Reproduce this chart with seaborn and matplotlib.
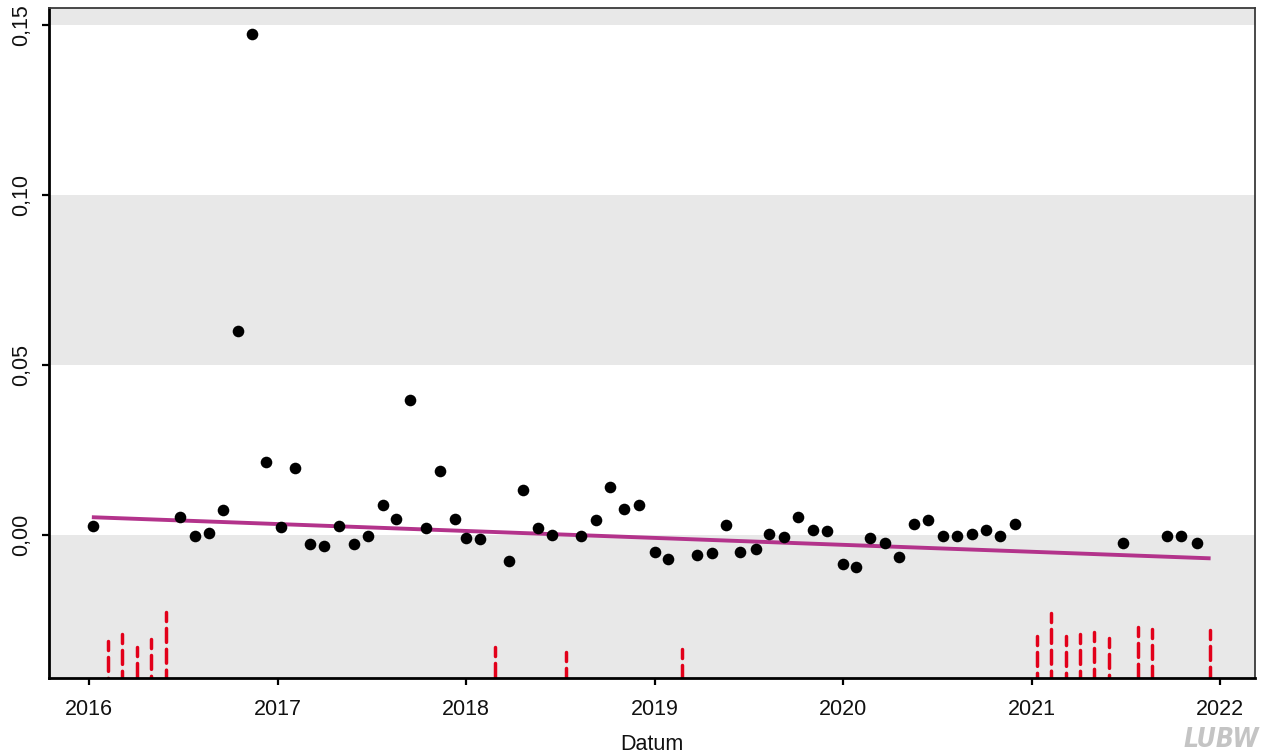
import matplotlib
matplotlib.use("Agg")
import matplotlib.pyplot as plt
import matplotlib.dates as mdates
import pandas as pd
import seaborn as sns

# Measured values (sampling date, value)
sample_dates = [
    "2016-01-10", "2016-06-26", "2016-07-24", "2016-08-21", "2016-09-18",
    "2016-10-16", "2016-11-13", "2016-12-10", "2017-01-07", "2017-02-04",
    "2017-03-04", "2017-04-01", "2017-04-30", "2017-05-28", "2017-06-24",
    "2017-07-23", "2017-08-19", "2017-09-15", "2017-10-15", "2017-11-11",
    "2017-12-10", "2017-12-31", "2018-01-27", "2018-03-25", "2018-04-21",
    "2018-05-21", "2018-06-17", "2018-08-12", "2018-09-09", "2018-10-07",
    "2018-11-03", "2018-12-02", "2019-01-01", "2019-01-27", "2019-03-24",
    "2019-04-22", "2019-05-19", "2019-06-16", "2019-07-16", "2019-08-11",
    "2019-09-08", "2019-10-06", "2019-11-03", "2019-12-01", "2020-01-01",
    "2020-01-26", "2020-02-23", "2020-03-23", "2020-04-19", "2020-05-18",
    "2020-06-14", "2020-07-12", "2020-08-09", "2020-09-06", "2020-10-04",
    "2020-11-01", "2020-11-29", "2021-06-27", "2021-09-19", "2021-10-17",
    "2021-11-16",
]
sample_values = [
    0.0027, 0.0054, -0.0004, 0.0005, 0.0074,
    0.0600, 0.1474, 0.0215, 0.0023, 0.0196,
    -0.0026, -0.0032, 0.0027, -0.0026, -0.0002,
    0.0089, 0.0048, 0.0397, 0.0019, 0.0188,
    0.0047, -0.0010, -0.0012, -0.0077, 0.0132,
    0.0020, 0.0001, -0.0002, 0.0045, 0.0141,
    0.0076, 0.0089, -0.0050, -0.0070, -0.0058,
    -0.0054, 0.0030, -0.0051, -0.0041, 0.0002,
    -0.0005, 0.0052, 0.0013, 0.0010, -0.0087,
    -0.0093, -0.0010, -0.0023, -0.0064, 0.0031,
    0.0045, -0.0004, -0.0004, 0.0002, 0.0014,
    -0.0002, 0.0031, -0.0023, -0.0004, -0.0004,
    -0.0023,
]

# Linear trend over the observation period
trend_dates = ["2016-01-07", "2021-12-13"]
trend_values = [0.0052, -0.0069]

# Sampling dates without a usable value (marker height in axis units)
gap_dates = [
    "2016-02-07", "2016-03-06", "2016-04-03", "2016-05-01", "2016-05-29",
    "2018-02-25", "2018-07-14", "2019-02-24", "2021-01-10", "2021-02-07",
    "2021-03-07", "2021-04-04", "2021-05-01", "2021-05-30", "2021-07-25",
    "2021-08-22", "2021-12-12",
]
gap_tops = [
    -0.0311, -0.0292, -0.0329, -0.0305, -0.0226,
    -0.0329, -0.0345, -0.0335, -0.0296, -0.0229,
    -0.0297, -0.0291, -0.0286, -0.0302, -0.0271,
    -0.0276, -0.0280,
]

year_ticks = [2016, 2017, 2018, 2019, 2020, 2021, 2022]
y_ticks = [0.00, 0.05, 0.10, 0.15]
y_tick_labels = ["0,00", "0,05", "0,10", "0,15"]
x_label = "Datum"

samples = pd.DataFrame({"Datum": pd.to_datetime(sample_dates), "Wert": sample_values})
trend = pd.DataFrame({"Datum": pd.to_datetime(trend_dates), "Wert": trend_values})
gaps = pd.DataFrame({"Datum": pd.to_datetime(gap_dates), "Wert": gap_tops})

sns.set_theme(style="white")
plt.rcParams["font.family"] = ["Liberation Sans", "DejaVu Sans"]

fig = plt.figure(figsize=(12.63, 7.56), dpi=100)
ax = fig.add_axes([49 / 1263, 78 / 756, 1206 / 1263, 670 / 756])

y_lo, y_hi = -0.0421, 0.1550
ax.set_ylim(y_lo, y_hi)
ax.set_xlim(pd.Timestamp("2015-10-16"), pd.Timestamp("2022-03-09"))

# Alternating horizontal bands
band = "#E8E8E8"
ax.axhspan(y_lo, y_ticks[0], color=band, lw=0, zorder=0)
ax.axhspan(y_ticks[1], y_ticks[2], color=band, lw=0, zorder=0)
ax.axhspan(y_ticks[3], y_hi, color=band, lw=0, zorder=0)

# Red dashed markers for missing samples, drawn from their top down to the axis
for d, top in zip(gaps["Datum"], gaps["Wert"]):
    ax.plot([d, d], [top, y_lo], color="#E2001A", linewidth=2.5,
            linestyle=(1.4, (4.0, 2.0)), dash_capstyle="round", zorder=2)

sns.lineplot(data=trend, x="Datum", y="Wert", color="#B3338B", linewidth=2.8,
             ax=ax, zorder=3, solid_capstyle="butt")
sns.scatterplot(data=samples, x="Datum", y="Wert", color="black", s=70,
                linewidth=0, ax=ax, zorder=4)

ax.set_xticks([pd.Timestamp(f"{y}-01-01") for y in year_ticks])
ax.xaxis.set_major_formatter(mdates.DateFormatter("%Y"))
ax.set_yticks(y_ticks)
ax.set_yticklabels(y_tick_labels, rotation=90, va="center")

ax.set_xlabel(x_label, fontsize=15.5, labelpad=10, color="#111111")
ax.set_ylabel("")

ax.tick_params(axis="both", which="major", direction="out", length=5, width=1.6,
               color="black", labelsize=15.5, labelcolor="#111111",
               bottom=True, left=True, top=False, right=False)
ax.tick_params(axis="x", pad=10)
ax.tick_params(axis="y", pad=7)

for side in ("left", "bottom"):
    ax.spines[side].set_color("black")
    ax.spines[side].set_linewidth(2.0)
for side in ("top", "right"):
    ax.spines[side].set_color("#3A3A3A")
    ax.spines[side].set_linewidth(1.3)

fig.text(1259 / 1263, 3 / 756, "LUBW", ha="right", va="bottom", fontsize=19,
         fontweight="bold", fontstyle="italic", fontstretch="condensed",
         color="#C4C4C4", family=["DejaVu Sans", "Liberation Sans"])

fig.savefig("out.png", dpi=100)
